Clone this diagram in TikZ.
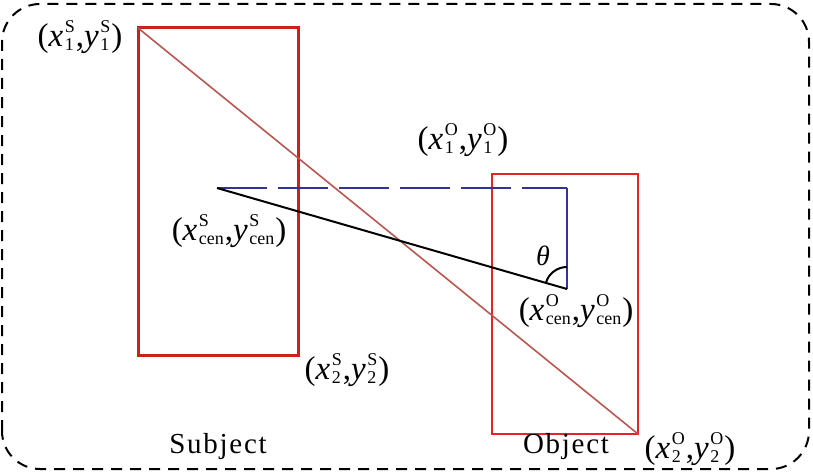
\documentclass[tikz,border=0pt]{standalone}
\usepackage{fontspec}
\setmainfont{Liberation Serif}
\newfontfamily\captfont{Liberation Serif}[LetterSpace=6]
\newcommand{\scfont}{\fontsize{18}{18}\selectfont}
\newcommand{\supsub}[2]{\kern1.5pt\begingroup\scfont\setbox0\hbox{#1}\setbox2\hbox{#2}\ifdim\wd0>\wd2 \wd2=\wd0\fi\rlap{\raisebox{14pt}{\box0}}\raisebox{-4pt}{\box2}\endgroup\kern1pt}
\newcommand{\ptlbl}[2]{(\textit{x}\supsub{#1}{#2},\textit{y}\supsub{#1}{#2})}
\begin{document}
\begin{tikzpicture}[x=1pt,y=1pt,
  outer/.style={draw=black,line width=2pt,dash pattern=on 11pt off 8pt,rounded corners=38pt},
  subjbox/.style={line width=3pt,color={rgb,255:red,204;green,32;blue,32}},
  objbox/.style={line width=2.4pt,color={rgb,255:red,230;green,36;blue,38}},
  diag/.style={line width=1.6pt,color={rgb,255:red,182;green,88;blue,80}},
  bluel/.style={line width=2pt,color={rgb,255:red,52;green,52;blue,150},dash pattern=on 50pt off 11pt},
  bluev/.style={line width=2pt,color={rgb,255:red,52;green,52;blue,150}},
  blk/.style={line width=2pt,black},
  lbl/.style={inner sep=0pt,font=\fontsize{33}{38}\selectfont},
  thlbl/.style={inner sep=0pt,font=\fontsize{28}{32}\selectfont},
  captxt/.style={inner sep=0pt,font=\fontsize{29}{32}\selectfont\captfont}
]
\useasboundingbox (0,0) rectangle (813,475);
\draw[outer] (2,6) rectangle (809,471);
\coordinate (s1) at (138,447);
\coordinate (s2) at (298,120);
\coordinate (o1) at (492,301);
\coordinate (o2) at (638,41);
\coordinate (sc) at (217,287);
\coordinate (oc) at (567,186);
\coordinate (cr) at (oc |- sc);
\draw[subjbox] (s1) rectangle (s2);
\draw[objbox] (o1) rectangle (o2);
\draw[diag] (s1) -- (o2);
\draw[bluel] (sc) -- (cr);
\draw[bluev] (cr) -- (oc);
\draw[blk] (sc) -- (oc);
\draw[blk] (oc) ++(163.9:22) arc[start angle=163.9,end angle=90,radius=22];
\node[lbl] (l1) at (80,438) {\ptlbl{S}{1}};
\node[lbl] (l2) at (229,244) {\ptlbl{S}{cen}};
\node[lbl] (l3) at (463,335) {\ptlbl{O}{1}};
\node[lbl] (l4) at (576,164) {\ptlbl{O}{cen}};
\node[lbl] (l5) at (347,105) {\ptlbl{S}{2}};
\node[lbl] (l6) at (690,26) {\ptlbl{O}{2}};
\node[thlbl] (th) at (543,219) {\textit{θ}};
\node[captxt] (subj) at (218,28) {Subject};
\node[captxt] (obj) at (566,28) {Object};
\end{tikzpicture}
\end{document}
